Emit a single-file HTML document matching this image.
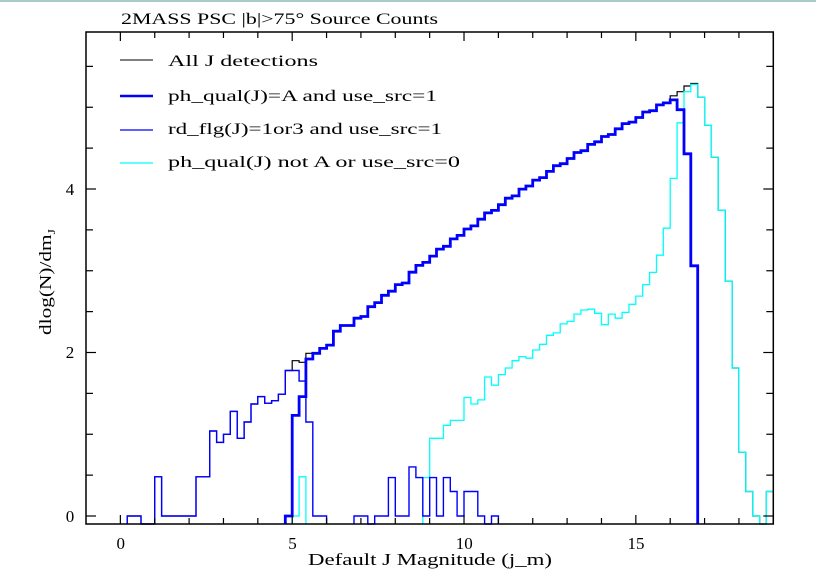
<!DOCTYPE html>
<html><head><meta charset="utf-8"><style>
html,body{margin:0;padding:0;background:#fff;}
svg{display:block;}
text{font-family:"Liberation Serif",serif;fill:#000;}
</style></head><body>
<svg id="s" width="816" height="587" viewBox="0 0 816 587" xmlns="http://www.w3.org/2000/svg">
<rect x="0" y="0" width="816" height="587" fill="#fff"/>
<line x1="0" y1="1" x2="816" y2="1" stroke="#a8cccc" stroke-width="2"/>
<text x="121" y="24" font-size="16" textLength="317" lengthAdjust="spacingAndGlyphs">2MASS PSC |b|&gt;75° Source Counts</text>
<g id="plot"></g>
<rect x="86" y="32" width="687.3" height="492" fill="none" stroke="#000" stroke-width="1.5"/>
<g id="ticks" stroke="#000" stroke-width="1.2"></g>
<text x="120.7" y="549" font-size="17" text-anchor="middle">0</text>
<text x="292.5" y="549" font-size="17" text-anchor="middle">5</text>
<text x="464.3" y="549" font-size="17" text-anchor="middle">10</text>
<text x="636" y="549" font-size="17" text-anchor="middle">15</text>
<text x="70" y="522" font-size="17" text-anchor="middle">0</text>
<text x="70" y="358" font-size="17" text-anchor="middle">2</text>
<text x="70" y="195" font-size="17" text-anchor="middle">4</text>
<text x="308" y="565" font-size="17" textLength="244" lengthAdjust="spacingAndGlyphs">Default J Magnitude (j_m)</text>
<text transform="translate(51,335) rotate(-90)" font-size="17" textLength="106" lengthAdjust="spacingAndGlyphs">dlog(N)/dm<tspan font-size="11" dy="4">J</tspan></text>
<line x1="120" y1="60" x2="153" y2="60" stroke="#000" stroke-width="1"/>
<line x1="120" y1="96" x2="153" y2="96" stroke="#0000ff" stroke-width="2.5"/>
<line x1="120" y1="130" x2="153" y2="130" stroke="#0000ff" stroke-width="1.3"/>
<line x1="120" y1="163" x2="153" y2="163" stroke="#00ffff" stroke-width="1.3"/>
<text x="168" y="66" font-size="16" textLength="150" lengthAdjust="spacingAndGlyphs">All J detections</text>
<text x="168" y="101" font-size="16" textLength="269" lengthAdjust="spacingAndGlyphs">ph_qual(J)=A and use_src=1</text>
<text x="168" y="134" font-size="16" textLength="274" lengthAdjust="spacingAndGlyphs">rd_flg(J)=1or3 and use_src=1</text>
<text x="168" y="167" font-size="16" textLength="292" lengthAdjust="spacingAndGlyphs">ph_qual(J) not A or use_src=0</text>
</svg>
<script>
(function(){
var NS="http://www.w3.org/2000/svg";
function X(m){return 86+34.365*(m+1);}
function Y(v){if(v===null)return 524;return 516-81.75*v;}
var B=null;
function path(bins,color,w){ // bins: array of [start,value], bin width 0.2
  var d="",first=true,prevY=null;
  for(var i=0;i<bins.length;i++){
    var m=bins[i][0],v=bins[i][1];
    var x0=X(m),x1=X(m+0.2),y=Y(v);
    if(first){d+="M"+x0.toFixed(1)+" 524 L"+x0.toFixed(1)+" "+y.toFixed(1);first=false;}
    else d+=" L"+x0.toFixed(1)+" "+y.toFixed(1);
    d+=" L"+x1.toFixed(1)+" "+y.toFixed(1);
  }
  var last=bins[bins.length-1];
  d+=" L"+X(last[0]+0.2).toFixed(1)+" 524";
  var p=document.createElementNS(NS,"path");
  p.setAttribute("d",d);p.setAttribute("fill","none");p.setAttribute("stroke",color);
  p.setAttribute("stroke-width",w);p.setAttribute("stroke-linejoin","miter");
  document.getElementById("plot").appendChild(p);
}
function seq(start,vals){var r=[];for(var i=0;i<vals.length;i++)r.push([Math.round((start+0.2*i)*10)/10,vals[i]]);return r;}
function f(m){var t=m-8.1;return 2.84+0.3466*t-0.00798*t*t;}
var noise=[0,0.02,-0.01,0.015,-0.005,0.01,-0.015,0.005,0.02,-0.01];
// main rising (thick)
var main=[];
var mainLow={5.0:1.23,5.2:1.46,5.4:1.92,5.6:1.99,5.8:2.05,6.0:2.09,6.2:2.26,6.4:2.33,6.6:2.33,6.8:2.42,7.0:2.44,7.2:2.56,7.4:2.61,7.6:2.70,7.8:2.75,8.0:2.83,8.2:2.85};
var thick=[[4.8,0]];
for(var k=0;k<56;k++){var m=Math.round((5.0+0.2*k)*10)/10; if(m>15.9)break;
  var v=(mainLow[m]!==undefined)?mainLow[m]:f(m+0.1)+noise[k%10];thick.push([m,v]);}
thick.push([16.0,5.09],[16.2,4.97],[16.4,4.43],[16.6,3.06]);
// black (all)
var blk=[];
blk=blk.concat(seq(0.2,[0,0,null,null,0.48,0,0,0,0,0,0.48,0.48,1.04,0.9,1.0,1.28,0.95,1.15,1.37,1.46,1.38,1.41,1.49,1.78,1.90,1.88,1.99]));
for(var i=0;i<thick.length;i++){if(thick[i][0]>=5.6&&thick[i][0]<16)blk.push(thick[i]);}
blk.push([16.0,5.14],[16.2,5.19],[16.4,5.26],[16.6,5.29],[16.8,5.12],[17.0,4.78],[17.2,4.39],[17.4,3.74],[17.6,2.87],[17.8,1.81],[18.0,0.78],[18.2,0.30],[18.4,0],[18.6,null],[18.8,0.30]);
path(blk,"#000",1.2);
// cyan
var cy=[[5.0,0],[5.2,0.48]];
path(cy,"#00ffff",1.3);
var cy2=seq(8.8,[0.47,0.95,0.95,1.11,1.17,1.17,1.45,1.37,1.42,1.70,1.60,1.73,1.81,1.90,1.95,1.93,2.03,2.10,2.21,2.24,2.35,2.38,2.47,2.52,2.53,2.48,2.34,2.47,2.42,2.49,2.59,2.69,2.83,2.98,3.19,3.52,4.13,4.81,5.19,5.28,5.12,4.78,4.39,3.74,2.87,1.81,0.78,0.30,0,null,0.30]);
path(cy2,"#00ffff",1.3);
// thin blue
var tb1=seq(0.2,[0,0,null,null,0.48,0,0,0,0,0,0.48,0.48,1.04,0.9,1.0,1.28,0.95,1.15,1.37,1.46,1.38,1.41,1.49,1.78,1.78,1.65,1.15,0,0]);
path(tb1,"#0000ff",1.4);
var tb2=seq(6.8,[0,0,null,0,0,0.47,0,0,0.6,0.47,0,0.47,0,0.47,0.30,0,0.30,0.30,0,null,0]);
path(tb2,"#0000ff",1.4);
path(thick,"#0000ff",2.8);
// ticks
var g=document.getElementById("ticks"),s="";
function ln(x1,y1,x2,y2){var l=document.createElementNS(NS,"line");l.setAttribute("x1",x1);l.setAttribute("y1",y1);l.setAttribute("x2",x2);l.setAttribute("y2",y2);g.appendChild(l);}
for(var m=0;m<=19;m++){var x=X(m),L=(m%5==0)?9:6;ln(x,524,x,524-L);ln(x,32,x,32+L);}
for(var v=0;v<=5.5;v+=0.5){var y=Y(v),L=(Math.abs(v%2)<0.01)?10:7;ln(86,y,86+L,y);ln(773.3,y,773.3-L,y);}
})();
</script>
</body></html>
